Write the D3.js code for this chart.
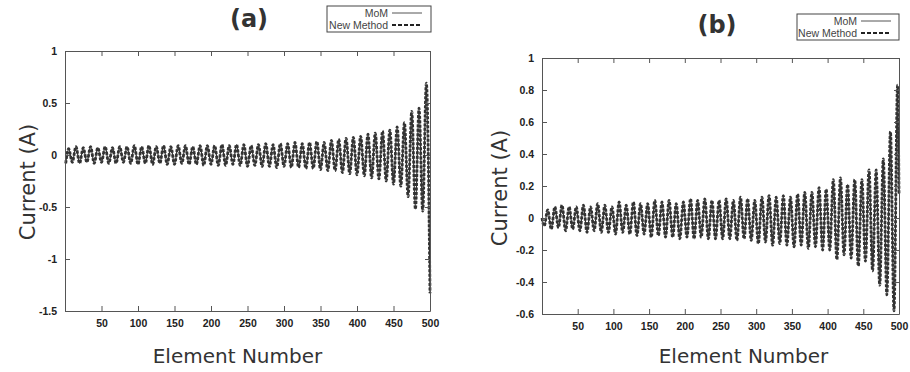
<!DOCTYPE html>
<html><head><meta charset="utf-8">
<script src="https://cdn.jsdelivr.net/npm/d3@7"></script>
<style>body{margin:0;background:#fff}svg{display:block}</style>
</head><body><svg id="chart" width="910" height="372"></svg>
<script>
// ---------- DATA ----------
const xTicks = [50,100,150,200,250,300,350,400,450,500];
const yTicksA = [1,0.5,0,-0.5,-1,-1.5];
const yTicksB = [1,0.8,0.6,0.4,0.2,0,-0.2,-0.4,-0.6];
const legendLabels = ["MoM","New Method"];

// Panel (a): alternating extrema of the current, elements and values
const elementsA = [1,
 5,10,15,20,25,30,35,40,45,50,55,60,65,70,75,80,85,90,95,100,
 105,110,115,120,125,130,135,140,145,150,155,160,165,170,175,180,185,190,195,200,
 205,210,215,220,225,230,235,240,245,250,255,260,265,270,275,280,285,290,295,300,
 305,310,315,320,325,330,335,340,345,350,355,360,365,370,375,380,385,390,395,400,
 405,410,415,420,425,430,435,440,445,450,455,460,465,470,475,480,485,490,495,500];
const momA = [-0.08,
 0.06,-0.07,0.08,-0.08,0.07,-0.07,0.08,-0.08,0.07,-0.07,0.08,-0.08,0.07,-0.08,0.08,-0.07,0.08,-0.08,0.09,-0.09,
 0.08,-0.08,0.09,-0.09,0.08,-0.08,0.09,-0.09,0.08,-0.09,0.09,-0.08,0.09,-0.09,0.08,-0.09,0.09,-0.10,0.09,-0.09,
 0.09,-0.10,0.10,-0.10,0.09,-0.09,0.10,-0.10,0.10,-0.11,0.09,-0.10,0.10,-0.11,0.11,-0.11,0.10,-0.12,0.11,-0.11,
 0.11,-0.12,0.12,-0.12,0.11,-0.13,0.12,-0.13,0.13,-0.14,0.12,-0.15,0.14,-0.15,0.15,-0.17,0.16,-0.18,0.17,-0.19,
 0.18,-0.20,0.20,-0.22,0.21,-0.23,0.23,-0.25,0.24,-0.28,0.27,-0.30,0.31,-0.40,0.42,-0.52,0.45,-0.54,0.69,-1.33];
const newMethodA = momA.slice();

// Panel (b)
const elementsB = [0,
 3,8,13,18,23,28,33,38,43,48,53,58,63,68,73,78,83,88,93,98,
 103,108,113,118,123,128,133,138,143,148,153,158,163,168,173,178,183,188,193,198,
 203,208,213,218,223,228,233,238,243,248,253,258,263,268,273,278,283,288,293,298,
 303,308,313,318,323,328,333,338,343,348,353,358,363,368,373,378,383,388,393,398,
 403,408,413,418,423,428,433,438,443,448,453,458,463,468,473,478,483,488,493,498,500];
const momB = [0.0,
 -0.05,0.05,-0.07,0.07,-0.06,0.08,-0.08,0.07,-0.07,0.07,-0.08,0.08,-0.09,0.07,-0.08,0.09,-0.09,0.08,-0.09,0.07,
 -0.10,0.10,-0.09,0.08,-0.10,0.10,-0.11,0.09,-0.10,0.09,-0.12,0.11,-0.11,0.10,-0.12,0.11,-0.12,0.09,-0.13,0.10,
 -0.12,0.12,-0.13,0.11,-0.12,0.12,-0.13,0.11,-0.13,0.11,-0.13,0.12,-0.13,0.11,-0.14,0.13,-0.13,0.12,-0.14,0.11,
 -0.16,0.13,-0.15,0.14,-0.17,0.13,-0.16,0.14,-0.17,0.13,-0.18,0.15,-0.17,0.16,-0.19,0.16,-0.18,0.19,-0.20,0.18,
 -0.20,0.24,-0.26,0.25,-0.23,0.21,-0.25,0.24,-0.30,0.24,-0.27,0.30,-0.33,0.30,-0.42,0.37,-0.48,0.54,-0.58,0.83,0.15];
const newMethodB = momB.slice();

// ---------- DRAWING ----------
const svg = d3.select("#chart");
const ink = "#333";

function panel(cfg){
  const x = d3.scaleLinear().domain([0,500]).range([cfg.left, cfg.right]);
  const y = d3.scaleLinear().domain(cfg.yDomain).range([cfg.bottom, cfg.top]);
  const g = svg.append("g");

  // data lines
  const pts = (els, vals) => els.map((e,i)=>[e, vals[i]]);
  const line = d3.line().x(d=>x(d[0])).y(d=>y(d[1])).curve(d3.curveMonotoneX);
  g.append("path").datum(pts(cfg.els, cfg.mom)).attr("d", line)
    .attr("fill","none").attr("stroke",ink).attr("stroke-width",1.2);
  g.append("path").datum(pts(cfg.els, cfg.nm)).attr("d", line)
    .attr("fill","none").attr("stroke",ink).attr("stroke-width",2.8)
    .attr("stroke-dasharray","3,1.5");

  // axes (ticks inward, mirrored)
  const fontTick = "bold 10.5px 'Liberation Sans', Arial, sans-serif";
  const bottomAx = d3.axisBottom(x).tickValues(xTicks).tickSizeInner(-5).tickSizeOuter(0).tickPadding(9);
  const topAx = d3.axisTop(x).tickValues(xTicks).tickSizeInner(-5).tickSizeOuter(0).tickFormat("");
  const leftAx = d3.axisLeft(y).tickValues(cfg.yTicks).tickSizeInner(-5).tickSizeOuter(0).tickPadding(8).tickFormat(d=>String(d));
  const rightAx = d3.axisRight(y).tickValues(cfg.yTicks).tickSizeInner(-5).tickSizeOuter(0).tickFormat("");
  const axes = [
    [bottomAx, `translate(0,${cfg.bottom})`],
    [topAx, `translate(0,${cfg.top})`],
    [leftAx, `translate(${cfg.left},0)`],
    [rightAx, `translate(${cfg.right},0)`]
  ];
  axes.forEach(([ax,tr])=>{
    const a = g.append("g").attr("transform",tr).call(ax);
    a.selectAll("path,line").attr("stroke","#555").attr("stroke-width",1);
    a.selectAll("text").style("font",fontTick).attr("fill","#222");
  });

  // title
  g.append("text").attr("x",cfg.titleX).attr("y",cfg.titleY).attr("text-anchor","middle")
    .style("font","bold 24px 'DejaVu Sans', sans-serif").attr("fill",ink).text(cfg.title);

  // axis labels
  g.append("text").attr("x",(cfg.left+cfg.right)/2 + cfg.xlabDx).attr("y",363).attr("text-anchor","middle")
    .style("font","20px 'DejaVu Sans', sans-serif").attr("fill",ink).text("Element Number");
  g.append("text").attr("transform",`translate(${cfg.ylabX},${cfg.ylabY}) rotate(-90)`).attr("text-anchor","middle")
    .style("font","21px 'DejaVu Sans', sans-serif").attr("fill",ink).text("Current (A)");

  // legend
  const L = cfg.legend;
  g.append("rect").attr("x",L.x).attr("y",L.y).attr("width",L.w).attr("height",L.h)
    .attr("fill","#fff").attr("stroke","#444").attr("stroke-width",1);
  legendLabels.forEach((lab,i)=>{
    const cy = L.y + 7 + i*12;
    g.append("text").attr("x",L.textEnd).attr("y",cy+3.5).attr("text-anchor","end")
      .style("font","10.5px 'Liberation Sans', Arial, sans-serif").attr("fill","#444").text(lab);
    g.append("line").attr("x1",L.textEnd+4).attr("x2",L.textEnd+34).attr("y1",cy).attr("y2",cy)
      .attr("stroke", i===0 ? "#555" : "#222")
      .attr("stroke-width", i===0 ? 1 : 2.2)
      .attr("stroke-dasharray", i===0 ? null : "4,2");
  });
}

panel({left:65,right:430,top:51,bottom:311,yDomain:[-1.5,1],yTicks:yTicksA,
  els:elementsA,mom:momA,nm:newMethodA,title:"(a)",titleX:249,titleY:27,
  xlabDx:-10,ylabX:35,ylabY:182,
  legend:{x:327,y:6,w:104,h:26,textEnd:388}});
panel({left:542,right:899,top:58,bottom:314,yDomain:[-0.6,1],yTicks:yTicksB,
  els:elementsB,mom:momB,nm:newMethodB,title:"(b)",titleX:717,titleY:33,
  xlabDx:23,ylabX:507,ylabY:188,
  legend:{x:797,y:14,w:102,h:26,textEnd:857}});
</script></body></html>
